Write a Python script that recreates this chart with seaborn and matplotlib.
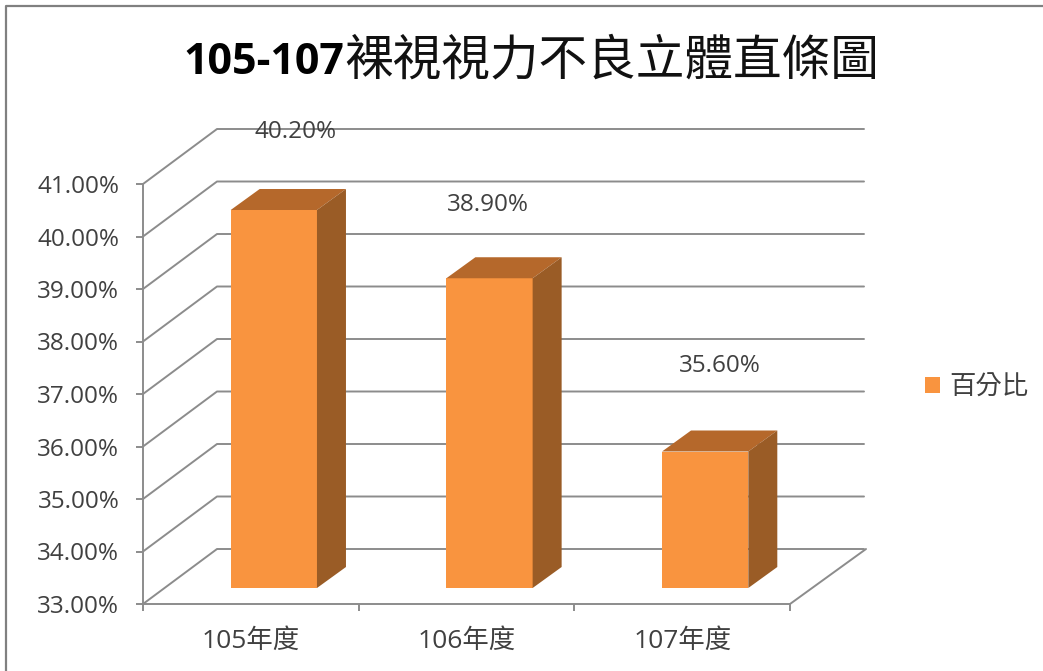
import matplotlib
matplotlib.use('Agg')
import matplotlib.pyplot as plt
import pandas as pd
import seaborn as sns
from matplotlib.lines import Line2D
from matplotlib.patches import Polygon
from matplotlib.transforms import IdentityTransform

years = ['105年度', '106年度', '107年度']
percent = [40.2, 38.9, 35.6]
y_ticks = [33, 34, 35, 36, 37, 38, 39, 40, 41]
series_name = '百分比'
title_num = '105-107'
title_cjk = '裸視視力不良立體直條圖'

# label offsets from the bar value, in pixels (excel put them by hand)
label_dx = [45, 21, 38]
label_dy = [94, 89, 102]

W, H = 1043, 671
left, right, bottom, top = 143, 790, 604, 184
depth_x, depth_y = 74, 55
bar_dx, bar_dy = 23, 16
bar_depth_x, bar_depth_y = 29, 21

front = '#F9943F'
top_col = '#B5682B'
side_col = '#9A5C26'
line_col = '#8C8C8C'
text_col = '#404040'

sns.set_theme(style='white')
plt.rcParams['font.family'] = ['Open Sans', 'Noto Sans CJK TC', 'DejaVu Sans']

df = pd.DataFrame({'year': years, 'percent': percent})

fig = plt.figure(figsize=(W / 100, H / 100), dpi=100)
ax = fig.add_axes([left / W, 1 - bottom / H, (right - left) / W, (bottom - top) / H])
ax.set_xlim(-0.5, 2.5)
ax.set_ylim(33, 41)
ax.patch.set_alpha(0)

# bars go on a copy of the axes moved up into the floor
bar_ax = fig.add_axes([(left + bar_dx) / W, 1 - (bottom - bar_dy) / H, (right - left) / W, (bottom - top) / H])
sns.barplot(data=df, x='year', y='percent', color=front, saturation=1, width=0.4, ax=bar_ax, label=series_name)
bar_ax.set_xlim(-0.5, 2.5)
bar_ax.set_ylim(33, 41)
bar_ax.axis('off')
bar_ax.get_legend().remove()

for p in bar_ax.patches:
    p.set_edgecolor('none')
    x0, y0 = bar_ax.transData.transform((p.get_x(), 33))
    x1, y1 = bar_ax.transData.transform((p.get_x() + p.get_width(), p.get_height()))
    top_face = [(x0, y1), (x1, y1), (x1 + bar_depth_x, y1 + bar_depth_y), (x0 + bar_depth_x, y1 + bar_depth_y)]
    side_face = [(x1, y0), (x1, y1), (x1 + bar_depth_x, y1 + bar_depth_y), (x1 + bar_depth_x, y0 + bar_depth_y)]
    bar_ax.add_patch(Polygon(top_face, closed=True, fc=top_col, ec='none', transform=IdentityTransform(), clip_on=False))
    bar_ax.add_patch(Polygon(side_face, closed=True, fc=side_col, ec='none', transform=IdentityTransform(), clip_on=False))

# walls and floor
for v in y_ticks:
    _, y = ax.transData.transform((0, v))
    x0 = ax.transData.transform((-0.5, v))[0]
    x1 = ax.transData.transform((2.5, v))[0]
    ax.add_line(Line2D([x0, x0 + depth_x, x1 + depth_x], [y, y + depth_y, y + depth_y], color=line_col, lw=1.4,
                       transform=IdentityTransform(), clip_on=False))
_, y = ax.transData.transform((0, 33))
x1 = ax.transData.transform((2.5, 33))[0]
ax.add_line(Line2D([x1, x1 + depth_x + 2], [y, y + depth_y], color=line_col, lw=1.4,
                   transform=IdentityTransform(), clip_on=False))

sns.despine(ax=ax, top=True, right=True)
for s in ['left', 'bottom']:
    ax.spines[s].set_color(line_col)
    ax.spines[s].set_linewidth(1.4)

ax.set_yticks(y_ticks)
ax.set_yticklabels([f'{v:.2f}%' for v in y_ticks], fontsize=17.5, color=text_col)
ax.set_xticks(range(len(years)))
ax.set_xticklabels(years, fontsize=19, color=text_col)
ax.set_xticks([-0.5, 0.5, 1.5, 2.5], minor=True)
ax.tick_params(axis='x', which='major', length=0, pad=18)
ax.tick_params(axis='x', which='minor', bottom=True, length=5, width=1.4, color=line_col)
ax.tick_params(axis='y', left=True, length=5, width=1.4, color=line_col, pad=12)

for i, v in enumerate(percent):
    ax.annotate(f'{v:.2f}%', xy=(i, v), xytext=(label_dx[i] * 0.72, label_dy[i] * 0.72), textcoords='offset points',
                ha='center', va='center', fontsize=17.5, color=text_col, annotation_clip=False)

# title is two fonts in the original
fig.text(344 / W, 1 - 62 / H, title_num, ha='right', va='center', fontsize=31, fontweight='bold', color='black')
fig.text(344 / W, 1 - 61 / H, title_cjk, ha='left', va='center', fontsize=35, color='#111111',
         family=['Noto Sans CJK TC', 'DejaVu Sans'])

handle = plt.Rectangle((0, 0), 1, 1, fc=front, ec='none')
fig.legend([handle], [series_name], loc='center left', bbox_to_anchor=(904 / W, 1 - 387 / H), frameon=False,
           labelcolor=text_col, handlelength=0.55, handleheight=0.55, handletextpad=0.35, borderpad=0.3,
           prop={'family': ['Noto Sans CJK TC', 'DejaVu Sans'], 'size': 19})

# outer chart border, only top and left are in the crop
fig.add_artist(Line2D([6 / W, 6 / W, 1], [0, 1 - 6 / H, 1 - 6 / H], color='#808080', lw=1.6))

fig.savefig('out.png', dpi=100)
